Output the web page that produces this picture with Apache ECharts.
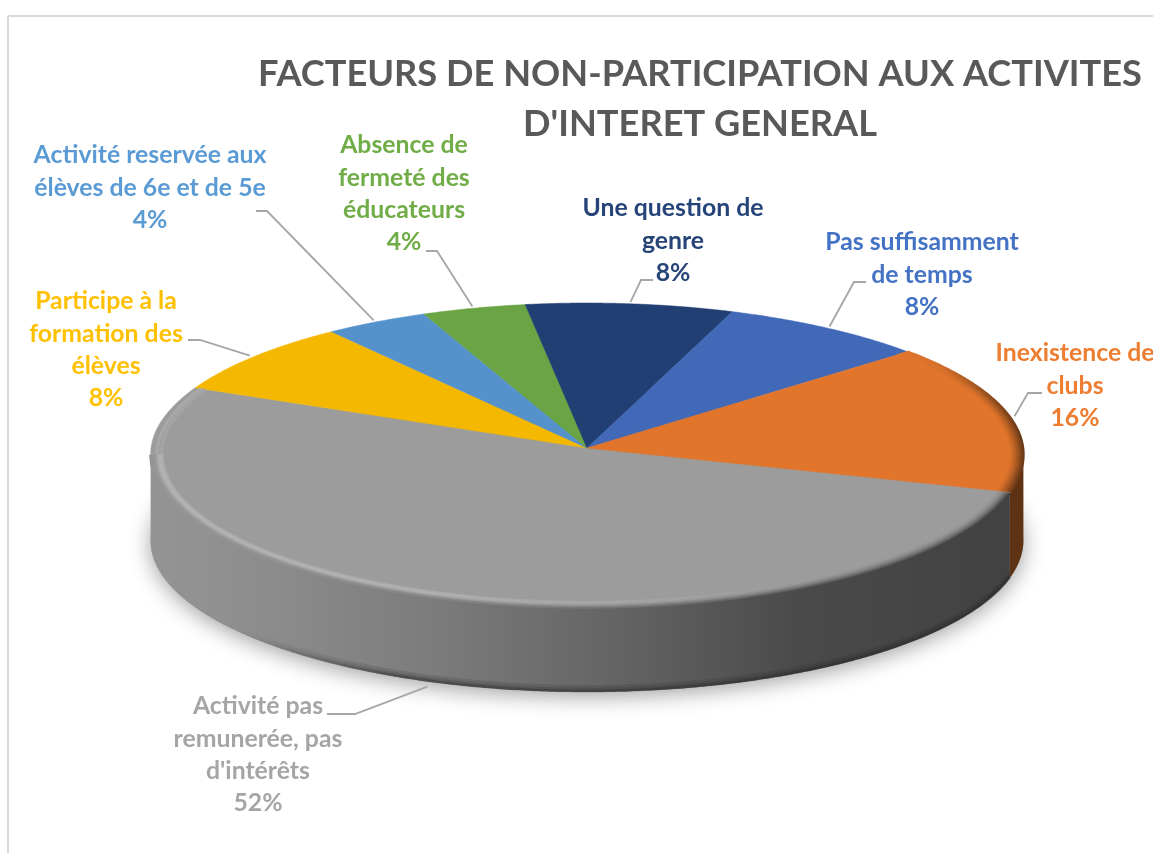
<!DOCTYPE html>
<html><head><meta charset="utf-8">
<style>html,body{margin:0;padding:0;background:#fff;overflow:hidden}#c{width:1153px;height:853px}</style>
<script src="https://cdn.jsdelivr.net/npm/echarts@6/dist/echarts.min.js"></script>
</head><body><div id="c"></div>
<script>
// ---- data ----
const categories = ["Activité pas remunerée, pas d'intérêts","Participe à la formation des élèves","Activité reservée aux élèves de 6e et de 5e","Absence de fermeté des éducateurs","Une question de genre","Pas suffisamment de temps","Inexistence de clubs"];
const values = [52, 8, 4, 4, 8, 8, 16];
const titleText = "FACTEURS DE NON-PARTICIPATION AUX ACTIVITES\nD'INTERET GENERAL";
// ---- label wrapping, as in the picture ----
const labelLines = [
 ["Activité pas","remunerée, pas","d'intérêts"],
 ["Participe à la","formation des","élèves"],
 ["Activité reservée aux","élèves de 6e et de 5e"],
 ["Absence de","fermeté des","éducateurs"],
 ["Une question de","genre"],
 ["Pas suffisamment","de temps"],
 ["Inexistence de","clubs"]
];
// ---- styles & layout ----
const faceColors = ["#9c9c9c","#f5b800","#5592cc","#6aa444","#213f73","#4169b8","#e1752c"];
const textColors = ["#a5a5a5","#ffc000","#5b9bd5","#70ad47","#264478","#4472c4","#ed7d31"];
const labelCenters = [[258,690],[106,285],[150,139],[404,129],[673,192],[922,226],[1075,337]];
const leaderStarts = [[[327,714],[355,714]],[[188,340],[200,340]],[[256,211],[267,211]],[[426,251],[437,251]],[[653,280],[641,280]],[[866,282],[854,282]],[[1042,393],[1028,393]]];
const FONT = 'Lato, "Noto Sans", sans-serif', LABEL_SIZE = 24.8, LINE_H = 32.4;
const CX = 587, CY = 448, RX = 436, RY = 151.2, K = 0.0429, START = -16.7;
const DEPTH = 86;
const grayWallStops = [[150,[148,148,148]],[250,[142,142,142]],[430,[124,124,124]],[600,[102,102,102]],[800,[74,74,74]],[1000,[66,66,66]],[1030,[66,66,66]]];
const orangeWall = [[930,[225,117,44]],[1010,[120,65,25]],[1030,[95,50,20]]];
const XMIN = 140, XMAX = 1030;

const total = values.reduce((a,b)=>a+b,0);
function project(deg, r){
  const a = deg*Math.PI/180, u = Math.cos(a)*(r==null?1:r), v = Math.sin(a)*(r==null?1:r);
  const s = 1/(1+K*v);
  return [CX + RX*u*s, CY - RY*v*s];
}
const sweeps = []; { let a = START; values.forEach(v=>{ const b = a - v/total*360; sweeps.push([a,b]); a = b; }); }
// dy is the extra downward shift at the very front of the disc; it tapers to nothing at the sides
function arcBetween(a,b,r,dy,taper){
  const n = Math.max(8, Math.ceil(Math.abs(a-b))*2), pts = [];
  for(let k=0;k<=n;k++){
    const d = a+(b-a)*k/n, p = project(d, r);
    const f = taper ? Math.abs(Math.sin(d*Math.PI/180)) : 1;
    pts.push([p[0], p[1]+(dy||0)*f]);
  }
  return pts;
}
const arc = (i,r,dy)=>arcBetween(sweeps[i][0],sweeps[i][1],r,dy);
// the visible front of the disc lies between its two silhouette points
const SIL = Math.asin(K)*180/Math.PI;
function frontRange(i){
  for(const shift of [0,360]){
    const a = Math.min(sweeps[i][0]+shift,-SIL), b = Math.max(sweeps[i][1]+shift,-180+SIL);
    if(a>b) return [a,b];
  }
  return null;
}
const hex = c => [1,3,5].map(i=>parseInt(c.substr(i,2),16));
const rgb = c => 'rgb('+c.map(Math.round).join(',')+')';
function interp(stops,x){
  if(x<=stops[0][0]) return stops[0][1];
  for(let i=1;i<stops.length;i++) if(x<=stops[i][0]){ const t=(x-stops[i-1][0])/(stops[i][0]-stops[i-1][0]); return stops[i-1][1].map((c,j)=>c+(stops[i][1][j]-c)*t); }
  return stops[stops.length-1][1];
}
function gradient(stops){
  const span = XMAX-XMIN;
  return new echarts.graphic.LinearGradient(XMIN,0,XMAX,0,stops.map(s=>({offset:(s[0]-XMIN)/span,color:s[1]})),true);
}
const xs = []; for(let x=XMIN;x<=XMAX;x+=40) xs.push(x);

function renderShadow(params, api){
  const pts=[]; for(let d=0;d<360;d+=2){ const p=project(d); pts.push([p[0],p[1]+DEPTH]); }
  return {type:'polygon',shape:{points:pts},style:{fill:'#999',shadowBlur:22,shadowColor:'rgba(0,0,0,0.38)',shadowOffsetY:4}};
}
function renderWall(params, api){
  const i = api.value(0), f = frontRange(i);
  if(!f) return null;
  const top = arcBetween(f[0],f[1],1,0), bot = arcBetween(f[0],f[1],1,DEPTH).reverse();
  const fill = i===0 ? gradient(grayWallStops.map(s=>[s[0],rgb(s[1])])) : (i===6 ? '#5f3214' : faceColors[i]);
  return {type:'polygon',shape:{points:top.concat(bot)},style:{fill}};
}
function renderBottomEdge(params, api){
  const f = frontRange(0);
  const kids=[[-1,.55,2.5],[-3,.35,2.5],[-5.5,.18,3]].map(e=>({
    type:'polyline',shape:{points:arcBetween(f[0],f[1],1,DEPTH+e[0])},
    style:{fill:'none',lineWidth:e[2],stroke:gradient([[XMIN,'rgba(40,40,40,0)'],[240,'rgba(40,40,40,0)'],[400,'rgba(40,40,40,'+e[1]+')'],[XMAX,'rgba(40,40,40,'+e[1]+')']])}
  }));
  return {type:'group',children:kids};
}
function renderFace(params, api){
  const i = api.value(0);
  return {type:'polygon',shape:{points:[[CX,CY]].concat(arc(i,1,0))},style:{fill:faceColors[i],stroke:faceColors[i],lineWidth:0.5}};
}
function renderRim(params, api){
  const i = api.value(0);
  if(i!==0 && i!==6) return null;
  const face = hex(faceColors[i]), kids=[], N=8;
  for(let j=0;j<N;j++){
    const t=j/(N-1), r=0.968+0.032*t;
    const bump = Math.sin(Math.PI*Math.min(1,t/0.7));
    const stops = xs.map(x=>{
      const w = i===0? interp(grayWallStops,x) : interp(orangeWall,x);
      const h = i===0? Math.max(0,Math.min(1,(860-x)/420))*24 : 0;
      const m = i===0? Math.pow(t,2) : Math.pow(t,1.2);
      return [x, rgb(face.map((c,k)=>Math.min(255,c+(w[k]-c)*m+h*bump)))];
    });
    const f = frontRange(i);
    if(i===0){
      kids.push({type:'polyline',shape:{points:arcBetween(f[0],f[1],r,t*4,true)},style:{fill:'none',lineWidth:2.6,stroke:gradient(stops)}});
    } else {
      kids.push({type:'polyline',shape:{points:arc(i,r,0)},style:{fill:'none',lineWidth:2.6,stroke:gradient(stops)}});
    }
  }
  if(i===0){
    // soft highlight only on the far-left part of the disc, with no dark edge
    [[0.975,'#a4a4a4',4],[0.985,'#a8a8a8',3]].forEach(e=>{
      kids.push({type:'polyline',shape:{points:arcBetween(frontRange(0)[1],sweeps[0][1],e[0],0)},style:{fill:'none',lineWidth:e[2],stroke:e[1]}});
    });
  }
  return {type:'group',children:kids};
}
function renderLabel(params, api){
  const i = api.value(0), mid=(sweeps[i][0]+sweeps[i][1])/2, end=project(mid,1.012), ls=leaderStarts[i], c=labelCenters[i];
  if(i===0) end[1]+=DEPTH+3;
  const text = labelLines[i].concat([api.value(1)+'%']).join('\n');
  return {type:'group',children:[
    {type:'polyline',shape:{points:[ls[0],ls[1],end]},style:{fill:'none',stroke:'#a6a6a6',lineWidth:1.8}},
    {type:'text',style:{text,x:c[0],y:c[1],fill:textColors[i],font:'bold '+LABEL_SIZE+'px '+FONT,align:'center',verticalAlign:'top',lineHeight:LINE_H}}
  ]};
}
const rows = values.map((v,i)=>[i,v]);
const layer = (renderItem,data,z)=>({type:'custom',coordinateSystem:'none',renderItem,data,z,silent:true,animation:false});
const chart = echarts.init(document.getElementById('c'),null,{renderer:'canvas'});
chart.setOption({
  animation:false,backgroundColor:'#fff',
  title:{text:titleText,left:695,top:44,textAlign:'center',textStyle:{color:'#595959',fontFamily:FONT,fontWeight:'bold',fontSize:36.2,lineHeight:50}},
  graphic:[
    {type:'line',shape:{x1:8,y1:16,x2:1153,y2:16},style:{stroke:'#d9d9d9',lineWidth:2}},
    {type:'line',shape:{x1:8,y1:16,x2:8,y2:853},style:{stroke:'#d9d9d9',lineWidth:2}}
  ],
  series:[
    layer(renderShadow,[[0]],1),
    layer(renderWall,rows.slice().reverse(),2),
    layer(renderBottomEdge,[[0]],3),
    layer(renderFace,rows,4),
    layer(renderRim,rows,5),
    layer(renderLabel,rows,6)
  ]
});
</script></body></html>
